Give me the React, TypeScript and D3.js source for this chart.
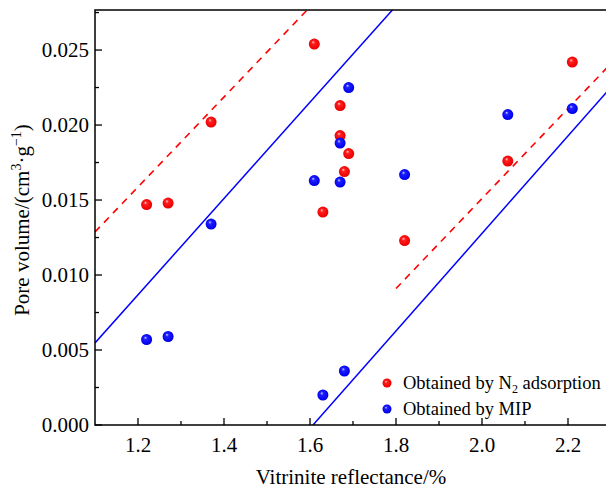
import React from "react";
import * as d3 from "d3";

const n2X = [1.22, 1.27, 1.37, 1.61, 1.63, 1.67, 1.67, 1.68, 1.69, 1.82, 2.06, 2.21];
const n2Y = [0.0147, 0.0148, 0.0202, 0.0254, 0.0142, 0.0213, 0.0193, 0.0169, 0.0181, 0.0123, 0.0176, 0.0242];
const mipX = [1.22, 1.27, 1.37, 1.61, 1.63, 1.67, 1.67, 1.68, 1.69, 1.82, 2.06, 2.21];
const mipY = [0.0057, 0.0059, 0.0134, 0.0163, 0.002, 0.0188, 0.0162, 0.0036, 0.0225, 0.0167, 0.0207, 0.0211];

// boundary lines: [x0, y0, x1, y1]
const redUpper = [1.1, 0.01287, 1.7, 0.03087];
const redLower = [1.8, 0.0091, 2.3, 0.0241];
const blueUpper = [1.1, 0.00547, 1.8, 0.02794];
const blueLower = [1.607, 0.0, 2.3, 0.02252];

const xTicks = [1.2, 1.4, 1.6, 1.8, 2.0, 2.2];
const xMinor = [1.3, 1.5, 1.7, 1.9, 2.1, 2.3];
const yTicks = [0, 0.005, 0.01, 0.015, 0.02, 0.025];
const yMinor = [0.0025, 0.0075, 0.0125, 0.0175, 0.0225, 0.0275];

const FONT = "Liberation Serif, Times New Roman, DejaVu Serif, serif";

export default function App() {
  const L = 95, R = 611, T = 10, B = 425;
  const x = d3.scaleLinear().domain([1.1, 2.3]).range([L, R]);
  const y = d3.scaleLinear().domain([0, 0.02767]).range([B, T]);
  const line = d3.line<[number, number]>().x(d => x(d[0])).y(d => y(d[1]));
  const seg = (s: number[]) => line([[s[0], s[1]], [s[2], s[3]]]) || "";
  const ts = { fontFamily: FONT };

  return (
    <svg width={606} height={490} style={{ position: "absolute", left: 0, top: 0, background: "#fff", fontFamily: FONT }}>
      <defs>
        <radialGradient id="gRed" cx="0.5" cy="0.5" r="0.6" fx="0.38" fy="0.32">
          <stop offset="0" stopColor="#ffd0d0" />
          <stop offset="0.25" stopColor="#ff2020" />
          <stop offset="0.8" stopColor="#ee0000" />
          <stop offset="1" stopColor="#b00000" />
        </radialGradient>
        <radialGradient id="gBlue" cx="0.5" cy="0.5" r="0.6" fx="0.38" fy="0.32">
          <stop offset="0" stopColor="#d0d0ff" />
          <stop offset="0.25" stopColor="#2020ff" />
          <stop offset="0.8" stopColor="#0000ee" />
          <stop offset="1" stopColor="#0000a0" />
        </radialGradient>
        <clipPath id="plot">
          <rect x={L} y={T} width={R - L} height={B - T} />
        </clipPath>
      </defs>

      <g clipPath="url(#plot)">
        <path d={seg(redUpper)} stroke="#ff0000" strokeWidth={1.6} strokeDasharray="7,6" fill="none" />
        <path d={seg(redLower)} stroke="#ff0000" strokeWidth={1.6} strokeDasharray="7,6" fill="none" />
        <path d={seg(blueUpper)} stroke="#0000ff" strokeWidth={1.5} fill="none" />
        <path d={seg(blueLower)} stroke="#0000ff" strokeWidth={1.5} fill="none" />
      </g>

      {n2X.map((v, i) => (
        <circle key={"r" + i} cx={x(v)} cy={y(n2Y[i])} r={5.5} fill="url(#gRed)" />
      ))}
      {mipX.map((v, i) => (
        <circle key={"b" + i} cx={x(v)} cy={y(mipY[i])} r={5.5} fill="url(#gBlue)" />
      ))}

      {/* frame */}
      <rect x={L} y={T} width={R - L} height={B - T} fill="none" stroke="#000" strokeWidth={1.5} />

      {/* x ticks */}
      {xTicks.map(t => (
        <g key={"xt" + t}>
          <line x1={x(t)} x2={x(t)} y1={B} y2={B - 7} stroke="#000" strokeWidth={1.3} />
          <text x={x(t)} y={452} textAnchor="middle" fontSize={21} style={ts}>{t.toFixed(1)}</text>
        </g>
      ))}
      {xMinor.map(t => (
        <line key={"xm" + t} x1={x(t)} x2={x(t)} y1={B} y2={B - 4} stroke="#000" strokeWidth={1.3} />
      ))}
      {/* y ticks */}
      {yTicks.map(t => (
        <g key={"yt" + t}>
          <line x1={L} x2={L + 7} y1={y(t)} y2={y(t)} stroke="#000" strokeWidth={1.3} />
          <text x={89} y={y(t) + 7} textAnchor="end" fontSize={21} style={ts}>{t.toFixed(3)}</text>
        </g>
      ))}
      {yMinor.map(t => (
        <line key={"ym" + t} x1={L} x2={L + 4} y1={y(t)} y2={y(t)} stroke="#000" strokeWidth={1.3} />
      ))}

      {/* axis titles */}
      <text x={351} y={484} textAnchor="middle" fontSize={21} style={ts}>Vitrinite reflectance/%</text>
      <text transform="translate(29,220) rotate(-90)" textAnchor="middle" fontSize={21} style={ts}>
        Pore volume/(cm<tspan fontSize={14} dy={-8}>3</tspan>
        <tspan dy={8}>·g</tspan>
        <tspan fontSize={14} dy={-8}>−1</tspan>
        <tspan dy={8}>)</tspan>
      </text>

      {/* legend */}
      <circle cx={387} cy={383} r={4.5} fill="url(#gRed)" />
      <text x={403} y={389} fontSize={18.5} style={ts}>
        Obtained by N<tspan fontSize={12} dy={4}>2</tspan>
        <tspan dy={-4}> adsorption</tspan>
      </text>
      <circle cx={387} cy={409} r={4.5} fill="url(#gBlue)" />
      <text x={403} y={415} fontSize={18.5} style={ts}>Obtained by MIP</text>
    </svg>
  );
}
